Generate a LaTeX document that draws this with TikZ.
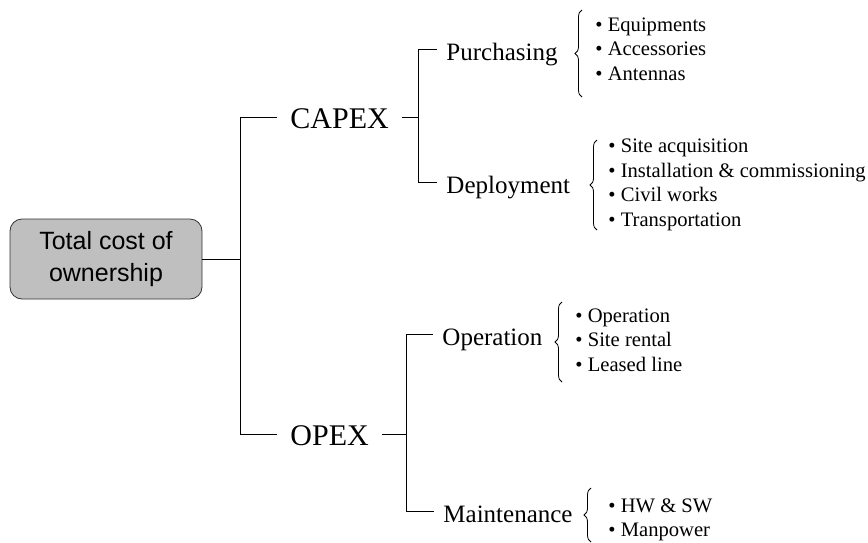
\documentclass[tikz,border=0pt]{standalone}
\usepackage{fontspec}
\setmainfont{Liberation Serif}
\newfontfamily\rootfont{Liberation Sans}
\usetikzlibrary{positioning, calc, decorations.pathreplacing}

\begin{document}
\begin{tikzpicture}[
  x=1pt, y=-1pt,
  line width=0.9pt,
  root/.style={draw=black!80, fill=black!25, rounded corners=12pt,
               minimum width=192pt, minimum height=80pt, align=center,
               font=\rootfont\fontsize{25}{32}\selectfont, line width=0.8pt},
  lvlone/.style={anchor=west, font=\fontsize{30}{36}\selectfont,
                 inner xsep=13pt, inner ysep=0pt, text height=22pt, text depth=0pt},
  lvltwo/.style={anchor=west, font=\fontsize{25}{30}\selectfont,
                 inner xsep=9pt, inner ysep=0pt, text height=22pt, text depth=0pt},
  items/.style={anchor=west, align=left, inner sep=0pt,
                font=\fontsize{20.6}{24.6}\selectfont},
  brc/.style={decorate, decoration={brace, amplitude=7pt}, line width=0.8pt},
  link/.style={draw, line width=1pt}
]
\useasboundingbox (0,0) rectangle (868,542);

\node[root] (tco) at (106,259) {Total cost of\\ownership};
\coordinate (jroot) at (240,259);

\node[lvlone] (capex) at (277,117) {CAPEX};
\node[lvlone] (opex) at (277,434) {OPEX};
\coordinate (jcap) at (418,117);
\coordinate (jop) at (406,434);

\node[lvltwo] (purch) at (437,49) {Purchasing};
\node[lvltwo] (deploy) at (437,182) {Deployment};
\node[lvltwo] (oper) at (433,334) {Operation};
\node[lvltwo] (maint) at (434,511) {Maintenance};

\node[items] (lpurch) at (595,49)
  {\textbullet\ Equipments\\\textbullet\ Accessories\\\textbullet\ Antennas};
\node[items] (ldeploy) at (608,185)
  {\textbullet\ Site acquisition\\\textbullet\ Installation \& commissioning\\
   \textbullet\ Civil works\\\textbullet\ Transportation};
\node[items] (loper) at (575,340)
  {\textbullet\ Operation\\\textbullet\ Site rental\\\textbullet\ Leased line};
\node[items] (lmaint) at (608,520)
  {\textbullet\ HW \& SW\\\textbullet\ Manpower};

% tree links
\draw[link] (tco.east) -- (jroot);
\draw[link] (jroot) |- (capex.west);
\draw[link] (jroot) |- (opex.west);
\draw[link] (capex.east) -- (jcap);
\draw[link] (jcap) |- (purch.west);
\draw[link] (jcap) |- (deploy.west);
\draw[link] (opex.east) -- (jop);
\draw[link] (jop) |- (oper.west);
\draw[link] (jop) |- (maint.west);

% braces
\draw[brc] ($(lpurch.west)+(-13,48)$) -- ($(lpurch.west)+(-13,-39)$);
\draw[brc] ($(ldeploy.west)+(-11,45)$) -- ($(ldeploy.west)+(-11,-45)$);
\draw[brc] ($(loper.west)+(-13,42)$) -- ($(loper.west)+(-13,-38)$);
\draw[brc] ($(lmaint.west)+(-17,22)$) -- ($(lmaint.west)+(-17,-32)$);

\end{tikzpicture}
\end{document}
